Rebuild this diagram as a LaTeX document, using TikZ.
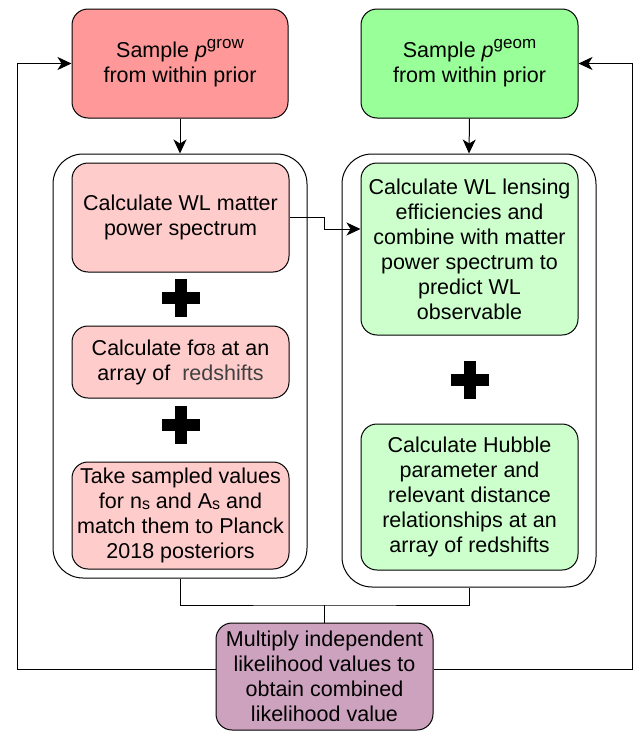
\documentclass[tikz,border=0pt]{standalone}
\usepackage{fontspec}
\setmainfont{Liberation Sans}
\usetikzlibrary{calc, positioning, arrows.meta}

\definecolor{growdark}{HTML}{FF9999}
\definecolor{geomdark}{HTML}{99FF99}
\definecolor{growlight}{HTML}{FFCCCC}
\definecolor{geomlight}{HTML}{CCFFCC}
\definecolor{likecol}{HTML}{CDA2BE}

\newcommand{\smallsub}[1]{\raisebox{-0.5pt}{\fontsize{16}{16}\selectfont #1}}
\newcommand{\bigsup}[1]{\raisebox{9pt}{\fontsize{17}{17}\selectfont #1}}

\begin{document}
\begin{tikzpicture}[x=1pt, y=-1pt, line width=1pt,
	box/.style={draw, rounded corners=16pt, align=center, inner sep=0pt,
		font=\fontsize{21.5}{25}\selectfont},
	container/.style={draw, rounded corners=30pt, inner sep=0pt},
	arr/.style={-{Stealth[length=14pt, width=13pt, inset=4pt]}}]

	\useasboundingbox (0,0) rectangle (640,731);

	% the two boxes around each chain of steps
	\node[container, minimum width=254pt, minimum height=424pt] (leftC) at (180,366) {};
	\node[container, minimum width=254pt, minimum height=433pt] (rightC) at (469,370.5) {};

	% sampling
	\node[box, fill=growdark, minimum width=216pt, minimum height=109pt] (growS) at (180,63.5)
	{Sample \textit{p}\bigsup{grow}\\from within prior};
	\node[box, fill=geomdark, minimum width=217pt, minimum height=109pt] (geomS) at (469.5,63.5)
	{Sample \textit{p}\bigsup{geom}\\from within prior};

	% growth side
	\node[box, fill=growlight, minimum width=217pt, minimum height=109pt] (wlP) at (180.5,217.5)
	{Calculate WL matter\\power spectrum};
	\node[box, fill=growlight, minimum width=217pt, minimum height=72pt] (fsig) at (180.5,362)
	{Calculate fσ\smallsub{8} at an\\array of \ {\color[HTML]{404040}redshifts}};
	\node[box, fill=growlight, minimum width=217pt, minimum height=107pt] (planck) at (180.5,515.5)
	{Take sampled values\\for n\smallsub{s} and A\smallsub{s} and\\match them to Planck\\2018 posteriors};

	% geometry side
	\node[box, fill=geomlight, minimum width=217pt, minimum height=172pt] (lensG) at (469.5,249)
	{Calculate WL lensing\\efficiencies and\\combine with matter\\power spectrum to\\predict WL\\observable};
	\node[box, fill=geomlight, minimum width=217pt, minimum height=146pt] (hubG) at (469.5,497)
	{Calculate Hubble\\parameter and\\relevant distance\\relationships at an\\array of redshifts};

	% combined likelihood
	\node[box, fill=likecol, minimum width=217pt, minimum height=107pt] (like) at (324.5,676.5)
	{Multiply independent\\likelihood values to\\obtain combined\\likelihood value};

	% plus signs
	\coordinate (plusA) at (180.5,298);
	\coordinate (plusB) at (180.5,425);
	\coordinate (plusC) at (469.5,380);
	\foreach \p in {plusA, plusB, plusC} {
		\fill ([shift={(-19,-6)}]\p) rectangle ([shift={(19,6)}]\p);
		\fill ([shift={(-6,-19)}]\p) rectangle ([shift={(6,19)}]\p);
	}

	\draw[arr] (growS.south) -- (leftC.north);
	\draw[arr] (geomS.south) -- (rightC.north);
	\draw[arr] (wlP.east) -- ++(35,0) |- ([yshift=20pt]lensG.west);

	\coordinate (join) at (324.5,605);
	\draw (leftC.south) |- (join) -| (rightC.south);
	\draw (join) -- (like.north);

	% loops back to sampling
	\coordinate (lc) at (17,669);
	\coordinate (rc) at (632,669);
	\draw[arr] (lc -| like.west) -- (lc) |- (growS.west);
	\draw[arr] (rc -| like.east) -- (rc) |- (geomS.east);

\end{tikzpicture}
\end{document}
